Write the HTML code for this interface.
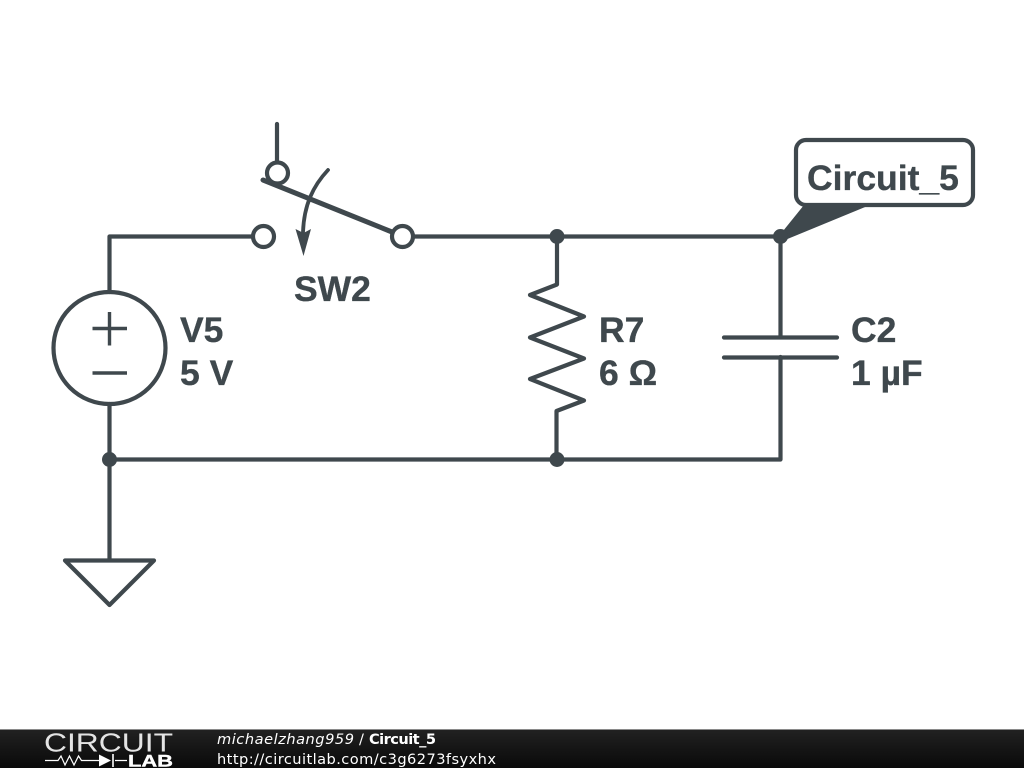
<!DOCTYPE html>
<html>
<head>
<meta charset="utf-8">
<style>
html,body{margin:0;padding:0;background:#fff;}
svg{display:block;}
.l{font-family:"Liberation Sans",sans-serif;font-weight:bold;font-size:35.5px;fill:#3f484d;stroke:#3f484d;stroke-width:0.35px;}
.f{font-family:"DejaVu Sans",sans-serif;font-size:14.6px;fill:#fff;}
</style>
</head>
<body>
<svg width="1024" height="768" viewBox="0 0 1024 768" xmlns="http://www.w3.org/2000/svg">
<defs>
<linearGradient id="g" x1="0" y1="0" x2="0" y2="1">
<stop offset="0" stop-color="#222222"/>
<stop offset="0.5" stop-color="#151515"/>
<stop offset="1" stop-color="#0a0a0a"/>
</linearGradient>
</defs>
<rect width="1024" height="768" fill="#fff"/>
<g fill="none" stroke="#3f484d" stroke-width="4.2" stroke-linecap="round" stroke-linejoin="round">
<!-- wires -->
<path d="M109.500 292V236.500H252"/>
<path d="M414 236.500H780.500V337"/>
<path d="M780.500 357V459.500H109.500V404"/>
<path d="M109.500 459.500V560"/>
<!-- ground -->
<path d="M65 560.500H154L109.500 605Z"/>
<!-- source -->
<circle cx="109.500" cy="348" r="56"/>
<path d="M109.500 312V345.500M92.500 328.500H127M92.500 373H127" stroke-width="3.400" stroke-linecap="butt"/>
<!-- switch -->
<path d="M277 124V162"/>
<circle cx="277.500" cy="173" r="10.500"/>
<circle cx="263.500" cy="236.500" r="10.500"/>
<circle cx="402.500" cy="236.500" r="10.500"/>
<path d="M263 180L392 232" stroke-width="5"/>
<path d="M328 170C313 186 304 205 303 232" stroke-width="3.800"/>
<!-- resistor -->
<path d="M557 236.500V284.500L530 295L584 316.500L530 337.500L584 358.500L530 379L584 400.500L556.500 411V459.500"/>
<!-- capacitor -->
<path d="M724 337.500H837M724 357.500H837"/>
<!-- callout -->
<rect x="796" y="140" width="177" height="65" rx="10" ry="10"/>
</g>
<!-- arrowhead -->
<path d="M295.500 229L303.500 233L311 229L303.500 256Z" fill="#3f484d"/>
<!-- callout pointer -->
<path d="M804 205H870L785 240L779 236Z" fill="#3f484d"/>
<!-- junctions -->
<g fill="#3f484d">
<circle cx="557" cy="236.500" r="7.500"/>
<circle cx="780.500" cy="236.500" r="7.500"/>
<circle cx="109.500" cy="459.500" r="7.500"/>
<circle cx="557" cy="459.500" r="7.500"/>
</g>
<!-- labels -->
<text class="l" x="294" y="301">SW2</text>
<text class="l" x="180" y="342">V5</text>
<text class="l" x="180" y="385">5 V</text>
<text class="l" x="599" y="342">R7</text>
<text class="l" x="599" y="385">6 Ω</text>
<text class="l" x="851" y="342">C2</text>
<text class="l" x="851" y="385">1 µF</text>
<text class="l" x="807" y="190">Circuit_5</text>
<!-- footer -->
<rect x="0" y="729" width="1024" height="39" fill="url(#g)"/>
<rect x="0" y="729" width="1024" height="1" fill="#8a8a8a"/>
<text x="44" y="751.500" font-family="'Liberation Sans',sans-serif" font-size="26" fill="#e4e4e4" textLength="129" lengthAdjust="spacingAndGlyphs">CIRCUIT</text>
<path d="M45 760.500H58L61 756L65 765L69.500 756L74 765L78.500 756L81.500 760.500H99M115 760.500H127" fill="none" stroke="#fff" stroke-width="1.200"/>
<path d="M99 754.500L111 760.500L99 766.500Z" fill="#fff"/>
<path d="M113 754V767" stroke="#fff" stroke-width="1.600"/>
<text x="128" y="766.500" font-family="'Liberation Sans',sans-serif" font-weight="bold" font-size="17" fill="#fff" stroke="#fff" stroke-width="0.400" textLength="45" lengthAdjust="spacingAndGlyphs">LAB</text>
<text class="f" x="217" y="744" font-style="italic" textLength="137" lengthAdjust="spacing">michaelzhang959</text>
<text class="f" x="359" y="744">/</text>
<text class="f" x="369" y="744" font-weight="bold" textLength="67" lengthAdjust="spacing">Circuit_5</text>
<text class="f" x="217" y="764" textLength="279" lengthAdjust="spacing">http://circuitlab.com/c3g6273fsyxhx</text>
</svg>
</body>
</html>
